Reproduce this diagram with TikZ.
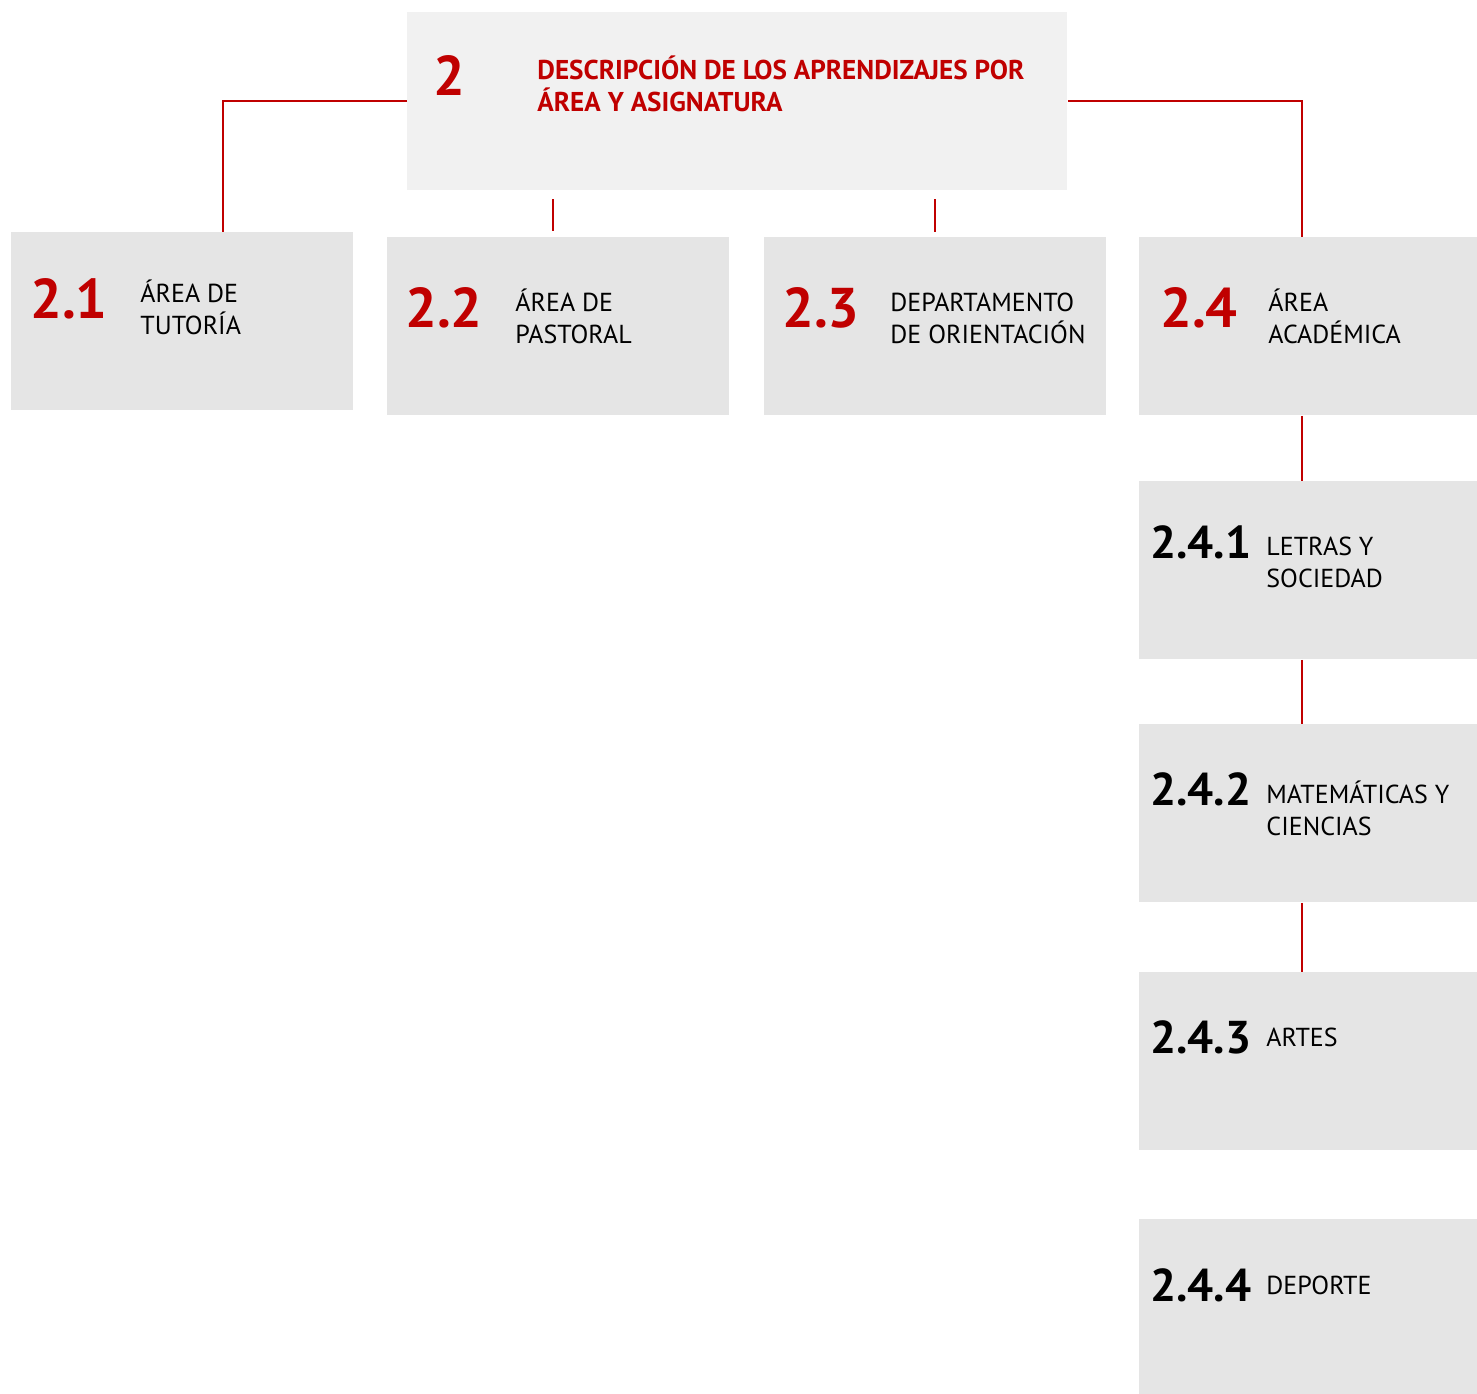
\documentclass[tikz,border=0pt]{standalone}
\usepackage{fontspec}
\setmainfont{PT Sans}
\definecolor{rojo}{HTML}{C00000}
\definecolor{gristop}{HTML}{F1F1F1}
\definecolor{gris}{HTML}{E5E5E5}
\tikzset{
  caja/.style={fill=gris, anchor=north west, inner sep=0pt, minimum width=171pt, minimum height=89pt},
  num/.style={anchor=base west, inner sep=0pt, text=rojo, font=\fontsize{28}{28}\selectfont\bfseries},
  subnum/.style={anchor=base west, inner sep=0pt, font=\fontsize{23}{23}\selectfont\bfseries},
  txt/.style={anchor=base west, inner sep=0pt, align=left, font=\fontsize{13}{16}\selectfont},
  linea/.style={draw=rojo, line width=1pt}
}
\begin{document}
\begin{tikzpicture}[x=0.5pt,y=-0.5pt]
\useasboundingbox (0,0) rectangle (1477,1393);
% boxes

\node[caja, fill=gristop, minimum width=330pt] (top) at (407,12) {};
\node[caja] (b21) at (11,232) {};
\node[caja] (b22) at (387,237) {};
\node[caja] (b23) at (764,237) {};
\node[caja, minimum width=169pt] (b24) at (1139,237) {};
\node[caja, minimum width=169pt] (b241) at (1139,481) {};
\node[caja, minimum width=169pt] (b242) at (1139,724) {};
\node[caja, minimum width=169pt] (b243) at (1139,972) {};
\node[caja, minimum width=169pt] (b244) at (1139,1219) {};

% texts (multi-line: placed at last baseline)

\node[num] (n2) at (433,95) {2};
\node[txt, text=rojo, font=\fontsize{13.6}{16}\selectfont\bfseries] (t2) at (537,111) {DESCRIPCIÓN DE LOS APRENDIZAJES POR\\ÁREA Y ASIGNATURA};

\node[num] (n21) at (30,318) {2.1};
\node[txt] (t21) at (140,334) {ÁREA DE\\TUTORÍA};
\node[num] (n22) at (405,327) {2.2};
\node[txt] (t22) at (515,343) {ÁREA DE\\PASTORAL};
\node[num] (n23) at (782,327) {2.3};
\node[txt] (t23) at (890,343) {DEPARTAMENTO\\DE ORIENTACIÓN};
\node[num] (n24) at (1160,327) {2.4};
\node[txt] (t24) at (1268,343) {ÁREA\\ACADÉMICA};

\node[subnum] (n241) at (1150,558) {2.4.1};
\node[txt] (t241) at (1266,587) {LETRAS Y\\SOCIEDAD};
\node[subnum] (n242) at (1150,805) {2.4.2};
\node[txt] (t242) at (1266,835) {MATEMÁTICAS Y\\CIENCIAS};
\node[subnum] (n243) at (1150,1053) {2.4.3};
\node[txt] (t243) at (1266,1046) {ARTES};
\node[subnum] (n244) at (1150,1301) {2.4.4};
\node[txt] (t244) at (1266,1294) {DEPORTE};

% lines

\coordinate (s22a) at (553,199);
\coordinate (s22b) at (553,231);
\coordinate (s23a) at (935,199);
\coordinate (s23b) at (935,232);

\draw[linea] (top.west) -| ([xshift=20.5pt]b21.north);
\draw[linea] (top.east) -| ([xshift=-3pt]b24.north);
\draw[linea] (s22a) -- (s22b);
\draw[linea] (s23a) -- (s23b);
\draw[linea] ([xshift=-3pt]b24.south) -- ([xshift=-3pt]b241.north);
\draw[linea] ([xshift=-3pt]b241.south) -- ([xshift=-3pt]b242.north);
\draw[linea] ([xshift=-3pt]b242.south) -- ([xshift=-3pt]b243.north);

\end{tikzpicture}
\end{document}
